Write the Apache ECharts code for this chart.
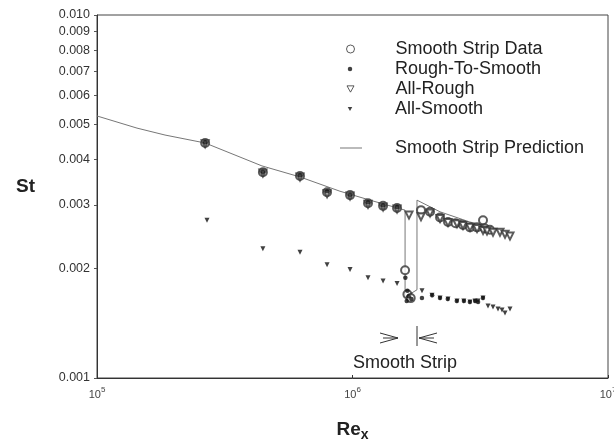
<!DOCTYPE html>
<html><head><meta charset="utf-8">
<script src="https://cdn.jsdelivr.net/npm/echarts@6/dist/echarts.min.js"></script>
<style>html,body{margin:0;padding:0;background:#fff}#c{width:614px;height:442px}</style>
</head><body><div id="c"></div>
<script>
// ---- tick labels ----
const yTickValues = [0.001, 0.002, 0.003, 0.004, 0.005, 0.006, 0.007, 0.008, 0.009, 0.0099999];
const xTickValues = [1e5, 1e6, 1e7];

// ---- Smooth Strip Data (open circles) ----
const stripRe = [2.65e5, 4.46e5, 6.23e5, 7.95e5, 9.78e5, 1.15e6, 1.317e6, 1.494e6, 1.606e6, 1.64e6, 1.69e6, 1.854e6, 2.011e6, 2.201e6, 2.365e6, 2.53e6, 2.707e6, 2.884e6, 3.07e6, 3.242e6, 3.30e6, 3.45e6];
const stripSt = [4.44e-3, 3.69e-3, 3.60e-3, 3.25e-3, 3.19e-3, 3.03e-3, 2.98e-3, 2.94e-3, 1.98e-3, 1.70e-3, 1.66e-3, 2.90e-3, 2.87e-3, 2.77e-3, 2.69e-3, 2.67e-3, 2.64e-3, 2.60e-3, 2.60e-3, 2.72e-3, 2.58e-3, 2.56e-3];

// ---- Rough-To-Smooth (filled dots) ----
const r2sRe = [2.65e5, 4.46e5, 6.23e5, 7.95e5, 9.78e5, 1.15e6, 1.317e6, 1.494e6, 1.61e6, 1.64e6, 1.66e6, 1.63e6, 1.70e6, 1.87e6, 2.05e6, 2.20e6, 2.36e6, 2.56e6, 2.73e6, 2.88e6, 3.02e6, 3.10e6, 3.24e6];
const r2sSt = [4.46e-3, 3.70e-3, 3.62e-3, 3.27e-3, 3.20e-3, 3.05e-3, 2.99e-3, 2.96e-3, 1.89e-3, 1.74e-3, 1.68e-3, 1.63e-3, 1.65e-3, 1.66e-3, 1.69e-3, 1.66e-3, 1.65e-3, 1.63e-3, 1.63e-3, 1.62e-3, 1.63e-3, 1.62e-3, 1.66e-3];

// ---- All-Rough (open down triangles) ----
const roughRe = [2.65e5, 4.46e5, 6.23e5, 7.95e5, 9.78e5, 1.15e6, 1.317e6, 1.494e6, 1.664e6, 1.854e6, 2.011e6, 2.201e6, 2.365e6, 2.564e6, 2.707e6, 2.884e6, 3.072e6, 3.242e6, 3.361e6, 3.548e6, 3.778e6, 3.953e6, 4.134e6];
const roughSt = [4.42e-3, 3.67e-3, 3.58e-3, 3.22e-3, 3.17e-3, 3.01e-3, 2.96e-3, 2.92e-3, 2.81e-3, 2.78e-3, 2.85e-3, 2.75e-3, 2.68e-3, 2.66e-3, 2.63e-3, 2.60e-3, 2.58e-3, 2.55e-3, 2.54e-3, 2.52e-3, 2.52e-3, 2.49e-3, 2.46e-3];

// ---- All-Smooth (small filled down triangles) ----
const smoothRe = [2.695e5, 4.46e5, 6.23e5, 7.95e5, 9.78e5, 1.15e6, 1.317e6, 1.494e6, 1.871e6, 2.047e6, 2.201e6, 2.365e6, 2.564e6, 2.727e6, 2.884e6, 3.017e6, 3.099e6, 3.242e6, 3.391e6, 3.548e6, 3.711e6, 3.847e6, 3.953e6, 4.134e6];
const smoothSt = [2.72e-3, 2.27e-3, 2.22e-3, 2.05e-3, 1.99e-3, 1.89e-3, 1.85e-3, 1.82e-3, 1.74e-3, 1.69e-3, 1.66e-3, 1.65e-3, 1.63e-3, 1.63e-3, 1.62e-3, 1.63e-3, 1.63e-3, 1.66e-3, 1.58e-3, 1.57e-3, 1.55e-3, 1.54e-3, 1.51e-3, 1.55e-3];

// ---- Smooth Strip Prediction (line) ----
const predRe = [1.0e5, 1.434e5, 1.846e5, 2.65e5, 4.42e5, 6.23e5, 8.93e5, 1.171e6, 1.606e6, 1.606e6, 1.788e6, 1.788e6, 2.2e6, 2.88e6, 3.78e6];
const predSt = [5.27e-3, 4.88e-3, 4.67e-3, 4.44e-3, 3.84e-3, 3.58e-3, 3.27e-3, 3.09e-3, 2.90e-3, 1.67e-3, 1.75e-3, 3.09e-3, 2.87e-3, 2.69e-3, 2.56e-3];

const zip = (a, b) => a.map((v, i) => [v, b[i]]);
const FONT = 'Arial, "Liberation Sans", sans-serif';
const INK = '#222';

const names = ['Smooth Strip Data', 'Rough-To-Smooth', 'All-Rough', 'All-Smooth', 'Smooth Strip Prediction'];
const DOWN_TRI = 'path://M0,0L10,0L5,9Z';
const legendRows = [
  {name: names[0], top: 40, w: 8, icon: 'circle', style: {color: '#fff', borderColor: '#333', borderWidth: 1}},
  {name: names[1], top: 60, w: 4.5, icon: 'circle', style: {color: '#111'}},
  {name: names[2], top: 80, w: 7, icon: DOWN_TRI, style: {color: '#fff', borderColor: '#333', borderWidth: 1}},
  {name: names[3], top: 100, w: 4.5, icon: DOWN_TRI, style: {color: '#111', borderWidth: 0}},
  {name: names[4], top: 139, w: 22, icon: 'rect', style: {color: '#777', borderWidth: 0}}
];
const legends = legendRows.map(r => ({
  data: [{name: r.name, icon: r.icon, itemStyle: r.style}],
  orient: 'vertical',
  padding: 0,
  left: (r.w === 22 ? 340 : 350 - r.w / 2),
  top: r.top,
  itemWidth: r.w,
  itemHeight: r.w === 22 ? 1 : r.w,
  selectedMode: false,
  textStyle: {fontSize: 18, color: INK, fontFamily: FONT,
    padding: [0, 0, 0, r.w === 22 ? 28 : 40 - r.w / 2]}
}));

const chart = echarts.init(document.getElementById('c'), null, {renderer: 'canvas'});
chart.setOption({
  backgroundColor: '#fff',
  animation: false,
  grid: {left: 97, right: 6, top: 15, bottom: 64, containLabel: false, outerBoundsMode: 'none',
    show: true, borderColor: '#444', borderWidth: 1},
  legend: legends,
  xAxis: {
    type: 'log', logBase: 10, min: 1e5, max: 1e7,
    name: '{r|Re}{x|x}', nameLocation: 'middle', nameGap: 42,
    nameTextStyle: {rich: {
      r: {fontSize: 19, fontWeight: 'bold', color: INK, fontFamily: FONT, verticalAlign: 'top', lineHeight: 22},
      x: {fontSize: 14, fontWeight: 'bold', color: INK, fontFamily: FONT, verticalAlign: 'bottom', lineHeight: 14, padding: [10, 0, 0, 0]}
    }},
    axisLine: {show: true, lineStyle: {color: '#333', width: 1}},
    axisTick: {show: true, length: 3, inside: true, lineStyle: {color: '#333'}},
    splitLine: {show: false},
    minorTick: {show: false},
    axisLabel: {
      margin: 8,
      formatter: v => '{b|10}{s|' + Math.round(Math.log10(v)) + '}',
      rich: {
        b: {fontSize: 11, color: '#444', fontFamily: FONT, verticalAlign: 'bottom', lineHeight: 14},
        s: {fontSize: 8, color: '#444', fontFamily: FONT, verticalAlign: 'top', lineHeight: 8}
      }
    }
  },
  yAxis: {
    type: 'log', logBase: 10, min: 0.001, max: 0.01,
    name: 'St', nameLocation: 'middle', nameRotate: 0, nameGap: 62,
    nameTextStyle: {fontSize: 19, fontWeight: 'bold', color: INK, fontFamily: FONT, verticalAlign: 'bottom'},
    axisLine: {show: true, lineStyle: {color: '#333', width: 1}},
    axisTick: {show: true, length: 3, customValues: yTickValues, lineStyle: {color: '#555'}},
    splitLine: {show: false},
    axisLabel: {
      customValues: yTickValues, margin: 7,
      fontSize: 12.5, color: '#333', fontFamily: FONT,
      formatter: v => (Math.round(v * 1000) / 1000).toFixed(3)
    }
  },
  series: [
    {name: names[4], type: 'line', data: zip(predRe, predSt), symbol: 'none', z: 1,
      lineStyle: {color: '#777', width: 1}, itemStyle: {color: '#777'}},
    {name: names[0], type: 'scatter', data: zip(stripRe, stripSt), symbol: 'emptyCircle', symbolSize: 8, z: 3,
      itemStyle: {color: '#333', borderWidth: 1}},
    {name: names[2], type: 'scatter', data: zip(roughRe, roughSt), symbol: 'emptyTriangle', symbolRotate: 180, symbolSize: 7, z: 3,
      itemStyle: {color: '#333', borderWidth: 1}},
    {name: names[1], type: 'scatter', data: zip(r2sRe, r2sSt), symbol: 'circle', symbolSize: 4.5, z: 4,
      itemStyle: {color: '#111'}},
    {name: names[3], type: 'scatter', data: zip(smoothRe, smoothSt), symbol: 'triangle', symbolRotate: 180, symbolSize: 5, z: 4,
      itemStyle: {color: '#111'}}
  ],
  graphic: [
    {type: 'text', left: 353, top: 354, style: {text: 'Smooth Strip', fontSize: 18, fill: INK, fontFamily: FONT}},
    {type: 'polyline', shape: {points: [[380, 333], [398, 338], [380, 343]]}, style: {stroke: '#333', lineWidth: 1, fill: null}},
    {type: 'line', shape: {x1: 383, y1: 338, x2: 398, y2: 338}, style: {stroke: '#333', lineWidth: 1}},
    {type: 'line', shape: {x1: 417, y1: 326, x2: 417, y2: 346}, style: {stroke: '#333', lineWidth: 1}},
    {type: 'polyline', shape: {points: [[437, 333], [419, 338], [437, 343]]}, style: {stroke: '#333', lineWidth: 1, fill: null}},
    {type: 'line', shape: {x1: 419, y1: 338, x2: 434, y2: 338}, style: {stroke: '#333', lineWidth: 1}}
  ]
});
</script>
</body></html>
